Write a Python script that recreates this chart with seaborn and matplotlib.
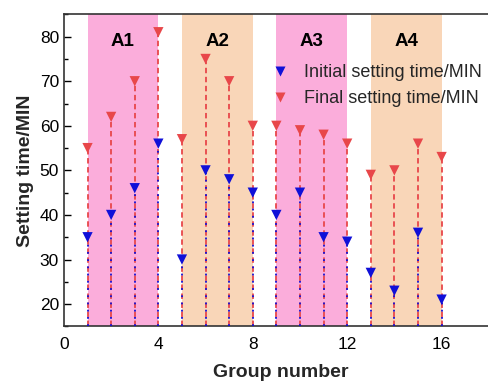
import numpy as np
import pandas as pd
import matplotlib
matplotlib.use("Agg")
import matplotlib.pyplot as plt
import seaborn as sns
from matplotlib.ticker import MultipleLocator

groups = list(range(1, 17))
initial = [35, 40, 46, 56, 30, 50, 48, 45, 40, 45, 35, 34, 27, 23, 36, 21]
final = [55, 62, 70, 81, 57, 75, 70, 60, 60, 59, 58, 56, 49, 50, 56, 53]
region_labels = ["A1", "A2", "A3", "A4"]
region_spans = [(1, 4), (5, 8), (9, 12), (13, 16)]

sns.set_theme(style="white")
plt.rcParams['font.family'] = ['Liberation Sans', 'DejaVu Sans']

fig = plt.figure(figsize=(4.88, 3.89), dpi=100)
ax = fig.add_axes([0.131, 0.161, 0.89, 0.802])

ymin, ymax = 15, 85
colors_bg = ["#FBADDB", "#F9D6B8"]
for i, ((a, b), lab) in enumerate(zip(region_spans, region_labels)):
    ax.axvspan(a, b, color=colors_bg[i % 2], zorder=0, lw=0)
    ax.text((a + b) / 2, 79, lab, ha="center", va="center",
            fontsize=13.5, fontweight="bold", color="black")

red = "#E8474A"
blue = "#1010D8"
ax.vlines(groups, ymin, final, colors=red, linestyles=(0, (3, 2)), lw=1.3, zorder=2)
ax.vlines(groups, ymin, initial, colors=blue, linestyles=(0, (1, 3)), lw=1.3, zorder=3)

df = pd.DataFrame({
    "group": groups * 2,
    "value": initial + final,
    "series": ["Initial setting time/MIN"] * 16 + ["Final setting time/MIN"] * 16,
})
sns.scatterplot(data=df, x="group", y="value", hue="series",
                palette={"Initial setting time/MIN": blue, "Final setting time/MIN": red},
                marker="v", s=55, edgecolor="none", ax=ax, zorder=4)

ax.set_xlim(0, 18.4)
ax.set_ylim(ymin, ymax)
ax.xaxis.set_major_locator(MultipleLocator(4))
ax.yaxis.set_major_locator(MultipleLocator(10))
ax.yaxis.set_minor_locator(MultipleLocator(5))
ax.tick_params(axis="both", which="both", direction="in", labelsize=12.5,
               colors="black", width=1)
ax.tick_params(axis="y", which="major", left=True, length=5)
ax.tick_params(axis="y", which="minor", left=True, length=3)
ax.tick_params(axis="x", bottom=False, pad=8)
for s in ax.spines.values():
    s.set_color("#333333")
    s.set_linewidth(1.2)

ax.set_xlabel("Group number", fontsize=14, fontweight="bold", labelpad=8)
ax.set_ylabel("Setting time/MIN", fontsize=14, fontweight="bold", labelpad=4)

leg = ax.legend(loc="upper left", bbox_to_anchor=(0.447, 0.875), frameon=False,
                fontsize=13, handletextpad=0.75, labelspacing=0.5,
                handlelength=1.2, markerscale=1.0, borderaxespad=0.2)

fig.savefig("out.png", dpi=100)
